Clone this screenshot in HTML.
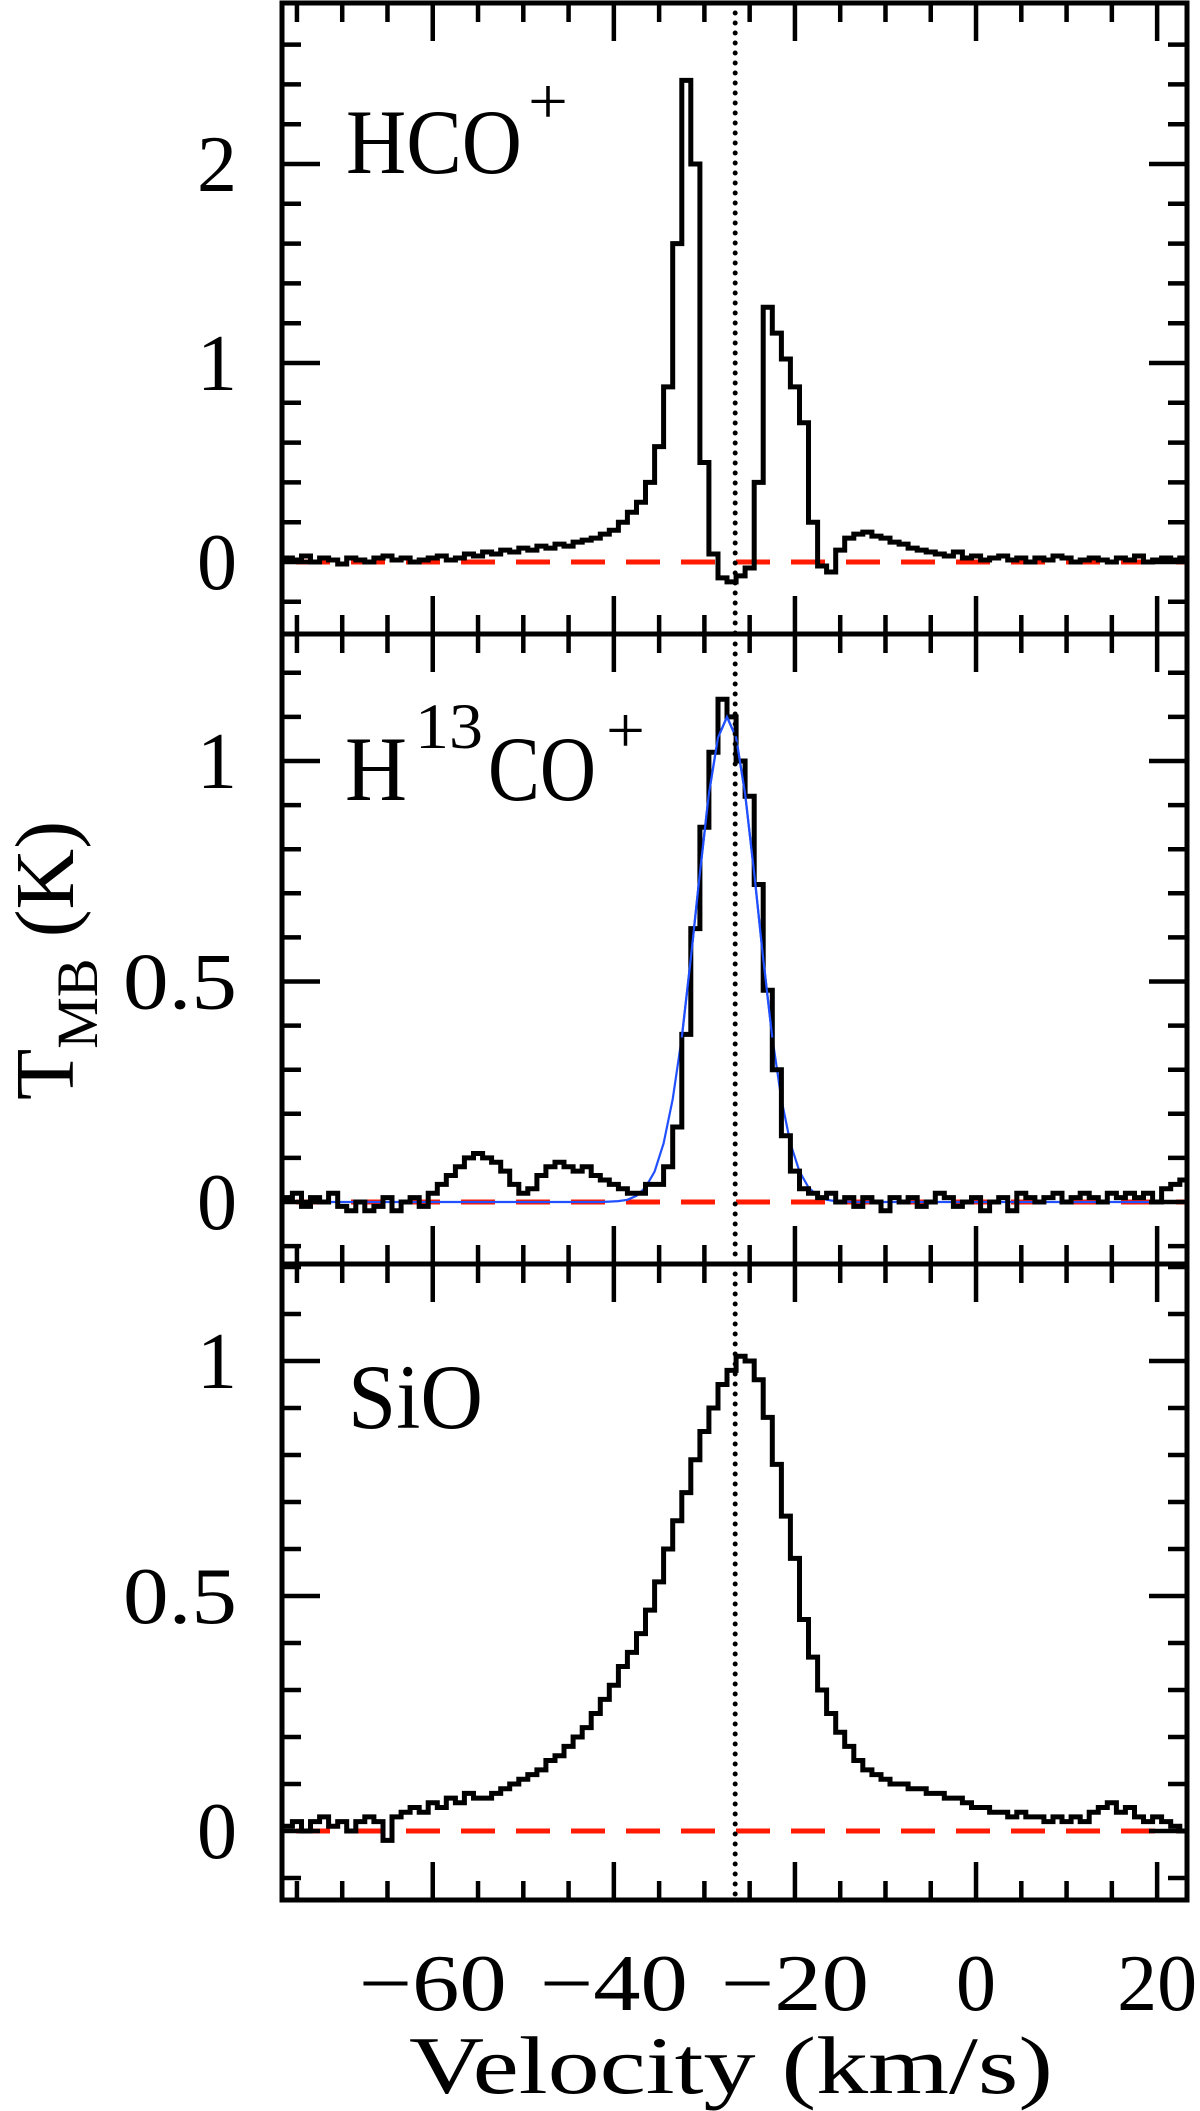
<!DOCTYPE html>
<html><head><meta charset="utf-8"><style>
html,body{margin:0;padding:0;background:#fff}
svg{display:block}
text{font-family:"Liberation Serif",serif;fill:#000}
</style></head><body>
<svg id="chart" width="1200" height="2111" viewBox="0 0 1200 2111" xmlns="http://www.w3.org/2000/svg"></svg>
<script>
// ---- data ----
const velStart = -76; // km/s, first channel centre
const velStep = 1;
const hcoValues = [0.02,0.01,0.03,0.0,0.02,0.01,-0.01,0.02,0.01,0.0,0.02,0.03,0.01,0.02,0.0,0.01,
 0.02,0.03,0.01,0.02,0.04,0.03,0.05,0.04,0.06,0.05,0.07,0.06,0.08,0.07,0.09,
 0.08,0.1,0.11,0.12,0.14,0.16,0.2,0.25,0.3,0.4,
 0.58,0.88,1.6,2.42,2.0,0.5,0.04,
 -0.08,-0.1,-0.07,-0.03,
 0.4,1.28,1.15,1.02,0.88,0.7,0.2,-0.02,-0.05,
 0.06,0.12,0.14,0.15,0.13,0.12,0.1,0.09,0.07,0.06,0.05,
 0.04,0.03,0.05,0.02,0.03,0.01,0.02,0.03,0.01,0.02,0.0,0.02,0.01,0.03,0.02,0.0,0.01,0.02,0.01,0.0,0.02,0.01,0.03,0.0,0.01,0.02,0.01,0.02];
const h13coValues = [0.01,0.02,-0.01,0.01,0.0,0.02,-0.01,-0.02,0.0,-0.02,-0.01,0.01,-0.02,0.0,0.01,-0.01,
 0.02,0.04,0.06,0.08,0.1,0.11,0.1,0.09,0.07,0.04,0.02,0.03,0.06,0.08,0.09,0.08,0.07,0.08,0.06,0.05,0.04,0.03,0.02,0.02,0.04,
 0.04,0.08,0.17,0.38,0.62,0.85,1.02,1.14,1.1,1.0,0.92,0.72,0.48,0.3,0.15,0.07,0.03,0.02,0.01,
 0.02,0.0,0.01,-0.01,0.01,0.0,-0.02,0.01,0.0,0.01,-0.01,0.0,0.02,0.01,-0.01,0.0,0.01,-0.02,0.0,0.01,-0.02,0.02,0.01,0.0,0.01,0.02,0.0,0.01,0.02,0.01,0.0,0.02,0.01,0.02,0.01,0.02,0.0,0.03,0.04,0.05];
const fitVel = [-41.5,-40.5,-39.5,-38.5,-37.5,-36.5,-35.5,-34.5,-33.5,-32.5,-31.5,-30.5,-29.5,-28.5,-27.5,-26.5,-25.5,-24.5,-23.5,-22.5,-21.5,-20.5,-19.5,-18.5,-17.5,-16.5,-15.5,-14.5,-13.5];
const fitValues = [0,0.001,0.002,0.005,0.014,0.033,0.069,0.133,0.233,0.373,0.552,0.746,0.926,1.053,1.1,1.053,0.926,0.746,0.552,0.373,0.233,0.133,0.069,0.033,0.014,0.005,0.002,0.001,0];
const sioValues = [0.01,0.02,0.0,0.02,0.03,0.01,0.02,0.0,0.02,0.03,0.02,-0.02,
 0.03,0.04,0.05,0.04,0.06,0.05,0.07,0.06,0.08,0.07,
 0.07,0.08,0.09,0.1,0.11,0.12,0.13,0.15,0.16,0.18,
 0.2,0.22,0.25,0.28,0.31,0.35,0.38,0.42,0.47,
 0.53,0.6,0.66,0.72,0.79,0.85,0.9,0.95,0.98,
 1.01,1.0,0.96,0.88,0.78,0.67,0.58,
 0.45,0.37,0.3,0.25,0.21,0.18,0.15,0.13,0.12,
 0.11,0.1,0.1,0.09,0.09,0.08,0.08,0.07,0.07,0.06,0.05,
 0.05,0.04,0.04,0.03,0.04,0.03,0.03,0.02,0.03,0.02,0.03,0.02,0.04,0.05,0.06,0.04,0.05,0.03,0.02,0.03,0.02,0.01,0.0];
const xTickLabels = [-60,-40,-20,0,20];
const systemicVel = -26.6;
const panelNames = ["hco-plus","h13co-plus","sio"];
const yMajorTicks = [[0,1,2],[0,0.5,1],[0,0.5,1]];

// ---- layout ----
const NS="http://www.w3.org/2000/svg";
const svg=document.getElementById('chart');
const X0=282, X1=1187, V0=-76.65, V1=23.3;
const xs=v=>X0+(v-V0)/(V1-V0)*(X1-X0);
const panels=[
 {top:3,bot:634,zero:562,unit:199,minor:0.2,major:1,lo:-0.4,hi:2.8},
 {top:634,bot:1264,zero:1202,unit:441,minor:0.1,major:0.5,lo:-0.2,hi:1.3},
 {top:1264,bot:1900,zero:1831,unit:470,minor:0.1,major:0.5,lo:-0.2,hi:1.3}];
function mk(tag,attrs,parent){const e=document.createElementNS(NS,tag);for(const k in attrs)e.setAttribute(k,attrs[k]);(parent||svg).appendChild(e);return e;}

const defs=mk('defs',{});
panels.forEach((p,i)=>{const cp=mk('clipPath',{id:'clip'+i},defs);mk('rect',{x:X0,y:p.top,width:X1-X0,height:p.bot-p.top},cp);});

function stepPath(vals,ys){
  let d='';
  vals.forEach((t,k)=>{const v=velStart+k*velStep;const xa=xs(v-velStep/2),xb=xs(v+velStep/2),y=ys(t);
    d+=(k===0?'M':'L')+xa.toFixed(1)+','+y.toFixed(1)+'L'+xb.toFixed(1)+','+y.toFixed(1);});
  return d;
}
const series=[hcoValues,h13coValues,sioValues];

panels.forEach((p,i)=>{
  const ys=t=>p.zero-t*p.unit;
  const g=mk('g',{'clip-path':'url(#clip'+i+')'});
  
  
  const zl=mk('line',{x1:X0,x2:X1,y1:ys(0),y2:ys(0),stroke:'#ff1a00','stroke-width':5,'stroke-dasharray':'34 21','stroke-dashoffset':-14},g);
  
  
  if(i===1){
    let d='';fitVel.forEach((v,k)=>{d+=(k?'L':'M')+xs(v).toFixed(1)+','+ys(fitValues[k]).toFixed(1);});
    d='M'+X0+','+ys(0)+'L'+xs(fitVel[0]).toFixed(1)+','+ys(0)+d.replace(/^M/,'L')+'L'+X1+','+ys(0);
    const fl=mk('path',{d:d,fill:'none',stroke:'#2050ff','stroke-width':2.2},g);
    
    
  }
  const sp=mk('path',{d:stepPath(series[i],ys),fill:'none',stroke:'#000','stroke-width':5,'stroke-linejoin':'miter'},g);
  
  
  if(i===1){
    const fl2=mk('path',{d:(()=>{let d='';fitVel.forEach((v,k)=>{if(fitValues[k]>0.3)d+=(d?'L':'M')+xs(v).toFixed(1)+','+ys(fitValues[k]).toFixed(1);});return d;})(),fill:'none',stroke:'#2050ff','stroke-width':2.2},g);
    
    
  }
  const dl=mk('line',{x1:xs(systemicVel),x2:xs(systemicVel),y1:p.top,y2:p.bot,stroke:'#000','stroke-width':5,'stroke-dasharray':'0 10','stroke-linecap':'round'},g);
  
  

  const tg=mk('g',{stroke:'#000','stroke-width':4.5});
  
  
  for(let v=-75;v<=20;v+=5){const L=(v%20===0)?38:19;const x=xs(v);
    mk('line',{x1:x,x2:x,y1:p.top,y2:p.top+L},tg);mk('line',{x1:x,x2:x,y1:p.bot,y2:p.bot-L},tg);}
  const nMin=Math.ceil(p.lo/p.minor-1e-6), nMax=Math.floor(p.hi/p.minor+1e-6);
  for(let n=nMin;n<=nMax;n++){const t=n*p.minor;const y=ys(t);if(y<p.top+2||y>p.bot-2)continue;
    const isMaj=Math.abs(t/p.major-Math.round(t/p.major))<1e-6;const L=isMaj?38:19;
    mk('line',{x1:X0,x2:X0+L,y1:y,y2:y},tg);mk('line',{x1:X1,x2:X1-L,y1:y,y2:y},tg);}
  yMajorTicks[i].forEach(t=>{const s=String(t);
    const tx=mk('text',{x:237,y:ys(t)+27,'font-size':80,'text-anchor':'end'});
    if(s.length===3){tx.setAttribute('textLength',114);tx.setAttribute('lengthAdjust','spacingAndGlyphs');}
    tx.textContent=s;
    
    
  });
  const fr=mk('rect',{x:X0,y:p.top,width:X1-X0,height:p.bot-p.top,fill:'none',stroke:'#000','stroke-width':5});
  
  
});

xTickLabels.forEach(v=>{
  const s=v<0?'\u2212'+Math.abs(v):String(v);
  const tx=mk('text',{x:xs(v),y:2010,'font-size':80,'text-anchor':'middle'});
  if(v<0){tx.setAttribute('textLength',148);tx.setAttribute('lengthAdjust','spacingAndGlyphs');}
  tx.textContent=s;
  
  
});
</script>
<script>
const s2=document.getElementById('chart');
s2.insertAdjacentHTML('beforeend',
 '<text x="409" y="2093" font-size="82" textLength="644" lengthAdjust="spacingAndGlyphs">Velocity (km/s)</text>'+
 '<text transform="translate(73,1100) rotate(-90)" font-size="84">T<tspan font-size="58" dy="24">MB</tspan><tspan dy="-24"> (K)</tspan></text>'+
 '<g><text x="346" y="173" font-size="92" textLength="176" lengthAdjust="spacingAndGlyphs">HCO</text><text x="528" y="123" font-size="66" textLength="40" lengthAdjust="spacingAndGlyphs">+</text></g>'+
 '<g><text x="345" y="800" font-size="92" textLength="62" lengthAdjust="spacingAndGlyphs">H</text><text x="415" y="748" font-size="65" textLength="68" lengthAdjust="spacingAndGlyphs">13</text><text x="488" y="800" font-size="92" textLength="108" lengthAdjust="spacingAndGlyphs">CO</text><text x="606" y="752" font-size="66" textLength="39" lengthAdjust="spacingAndGlyphs">+</text></g>'+
 '<text x="348" y="1428" font-size="92" textLength="135" lengthAdjust="spacingAndGlyphs">SiO</text>'
);
</script>
</body></html>
